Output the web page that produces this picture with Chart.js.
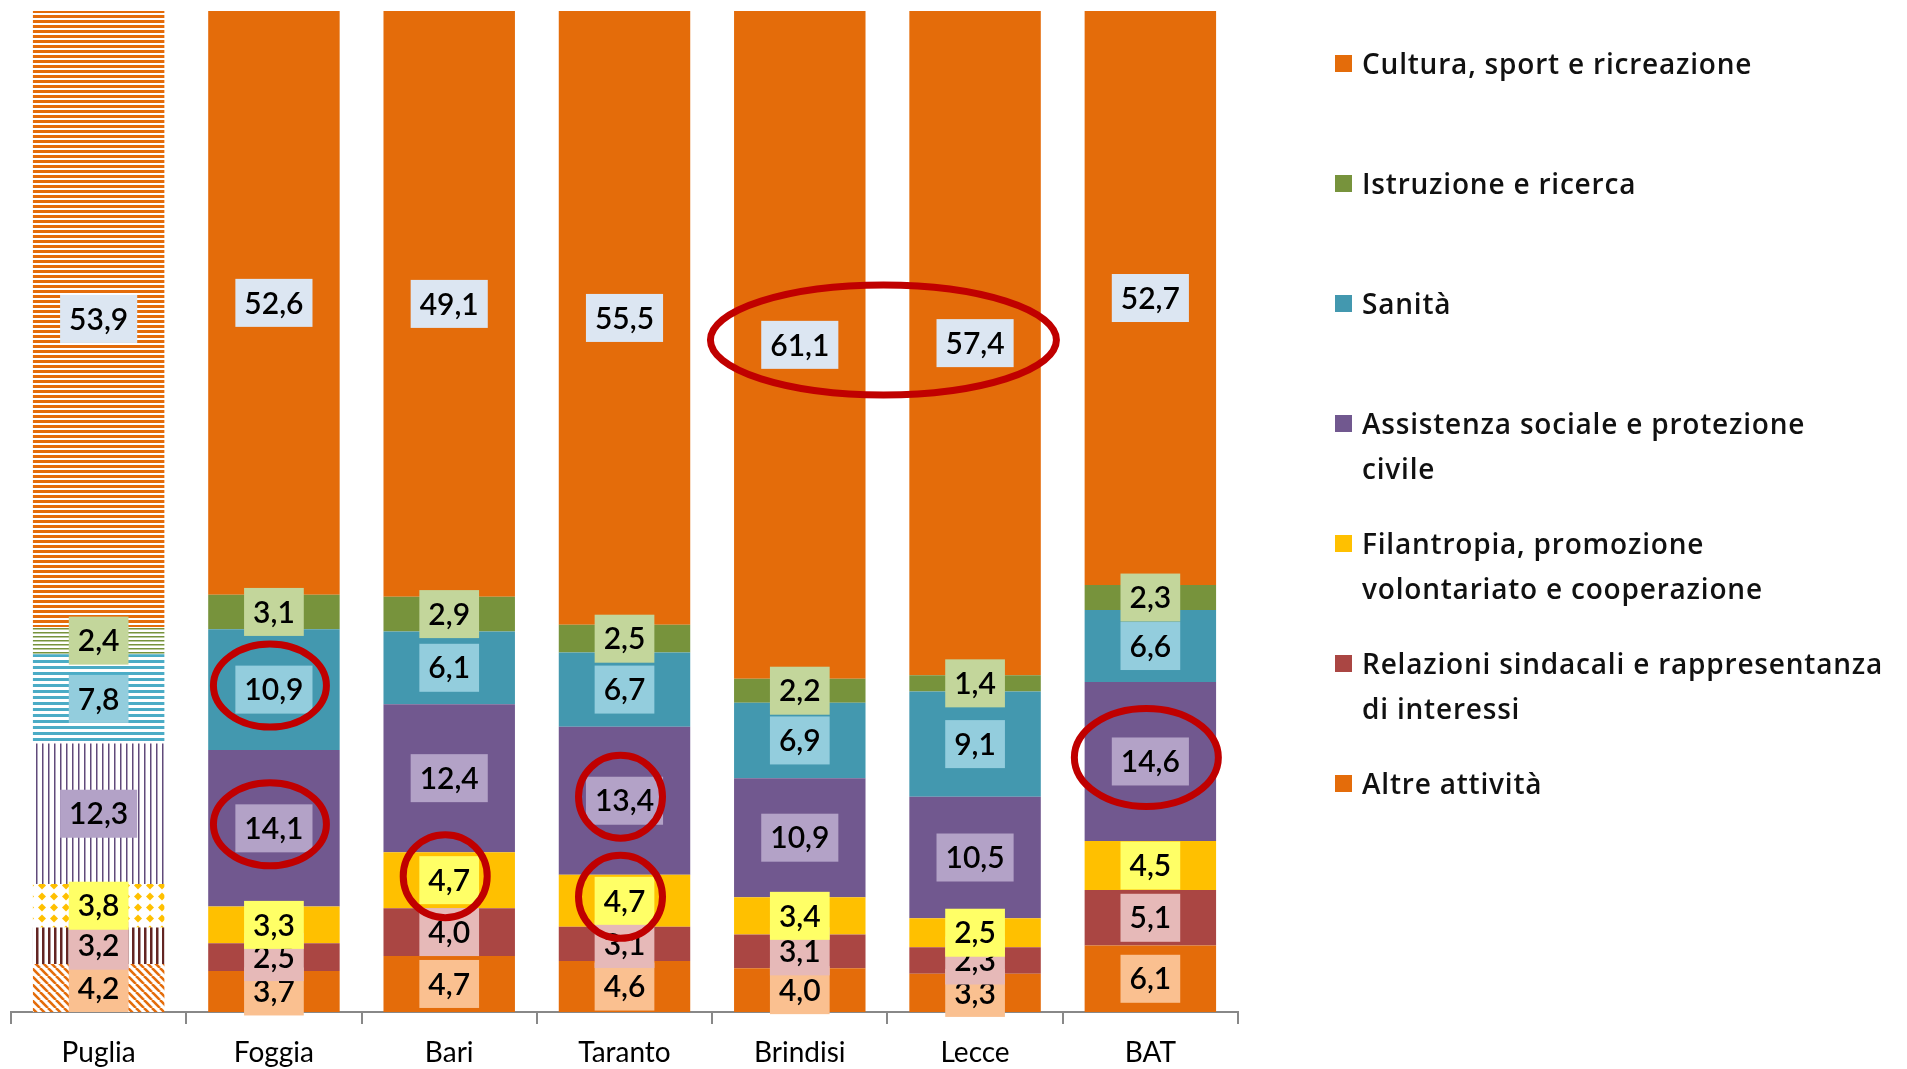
<!DOCTYPE html>
<html lang="it">
<head>
<meta charset="utf-8">
<title>Settori di attività per provincia</title>
<script src="https://cdn.jsdelivr.net/npm/chart.js@4.4.1/dist/chart.umd.min.js"></script>
<style>
  html, body { margin: 0; padding: 0; background: #fff; overflow: hidden; }
  #wrap { position: relative; width: 1907px; height: 1069px; overflow: hidden; }
  #legend {
    position: absolute; left: 1335px; top: 41px;
    font-family: "Open Sans", Lato, sans-serif; font-size: 28px; font-weight: 600; letter-spacing: 0.8px; color: #111;
  }
  .item { position: relative; height: 120px; padding-left: 27px; line-height: 45px; white-space: pre; }
  .item i { position: absolute; left: 0; top: 14px; width: 17px; height: 17px; }
</style>
</head>
<body>
<div id="wrap">
  <canvas id="chart" width="1907" height="1069"></canvas>
  <div id="legend"></div>
</div>
<script>
// categorie (asse x)
const categories = ["Puglia", "Foggia", "Bari", "Taranto", "Brindisi", "Lecce", "BAT"];

// valori per settore (%), dal basso verso l'alto
const altre       = [4.2, 3.7, 4.7, 4.6, 4.0, 3.3, 6.1];
const relazioni   = [3.2, 2.5, 4.0, 3.1, 3.1, 2.3, 5.1];
const filantropia = [3.8, 3.3, 4.7, 4.7, 3.4, 2.5, 4.5];
const assistenza  = [12.3, 14.1, 12.4, 13.4, 10.9, 10.5, 14.6];
const sanita      = [7.8, 10.9, 6.1, 6.7, 6.9, 9.1, 6.6];
const istruzione  = [2.4, 3.1, 2.9, 2.5, 2.2, 1.4, 2.3];
const cultura     = [53.9, 52.6, 49.1, 55.5, 61.1, 57.4, 52.7];

const seriesNames = [
  "Altre attività",
  "Relazioni sindacali e rappresentanza\ndi interessi",
  "Filantropia, promozione\nvolontariato e cooperazione",
  "Assistenza sociale e protezione\ncivile",
  "Sanità",
  "Istruzione e ricerca",
  "Cultura, sport e ricreazione"
];
const seriesValues = [altre, relazioni, filantropia, assistenza, sanita, istruzione, cultura];

// colori
const segColors   = ["#E46C0A", "#AA4643", "#FFC000", "#71588F", "#4398AF", "#77933C", "#E46C0A"];
const labelColors = ["#FAC090", "#E6B9B8", "#FFFF66", "#B3A2C7", "#93CDDD", "#C3D69B", "#DCE6F2"];

// cerchi rossi: [categorie, serie, larghezza, altezza]
const highlights = [
  [[1], 4, 113, 83],
  [[1], 3, 113, 83],
  [[2], 2, 84, 83],
  [[3], 3, 84, 83],
  [[3], 2, 84, 83],
  [[6], 3, 144, 98],
  [[4, 5], 6, 346, 110]
];

// --- trame per la barra "Puglia" ---
function tile(w, h, draw) {
  const c = document.createElement("canvas");
  c.width = w; c.height = h;
  const g = c.getContext("2d");
  g.fillStyle = "#fff";
  g.fillRect(0, 0, w, h);
  draw(g);
  return g.createPattern(c, "repeat");
}
const patterns = [
  tile(8, 8, g => { // diagonali arancio
    g.strokeStyle = "#E46C0A"; g.lineWidth = 2.6;
    for (let k = -8; k <= 16; k += 8) { g.beginPath(); g.moveTo(k, 0); g.lineTo(k + 8, 8); g.stroke(); }
  }),
  tile(6, 4, g => { g.fillStyle = "#632523"; g.fillRect(0, 0, 2.5, 4); }),
  tile(12, 11, g => {
    g.fillStyle = "#FFC000";
    g.beginPath(); g.moveTo(6, 1.5); g.lineTo(10, 5.5); g.lineTo(6, 9.5); g.lineTo(2, 5.5); g.closePath(); g.fill();
  }),
  tile(6, 4, g => { g.fillStyle = "#604A7B"; g.fillRect(0, 0, 1.5, 4); }),
  tile(4, 6, g => { g.fillStyle = "#4BACC6"; g.fillRect(0, 0, 4, 3); }),
  tile(4, 4, g => { g.fillStyle = "#77933C"; g.fillRect(0, 0, 4, 1.5); }),
  tile(4, 5, g => { g.fillStyle = "#E46C0A"; g.fillRect(0, 0, 4, 3); })
];

// totali per normalizzare a 100
const totals = categories.map((_, i) => seriesValues.reduce((s, arr) => s + arr[i], 0));
const fmt = v => v.toFixed(1).replace(".", ",");

const datasets = seriesValues.map((arr, di) => ({
  label: seriesNames[di].replace("\n", " "),
  data: arr.map((v, i) => v / totals[i] * 100),
  raw: arr,
  backgroundColor: c => c.dataIndex === 0 ? patterns[di] : segColors[di],
  borderWidth: 0,
  categoryPercentage: 1,
  barPercentage: 0.75
}));

// etichette con riquadro + ellissi rosse
const boxLabels = {
  id: "boxLabels",
  afterDatasetsDraw(chart) {
    const ctx = chart.ctx;
    const centers = {};
    ctx.save();
    ctx.font = '600 30px Lato, "Open Sans", sans-serif';
    ctx.textAlign = "center";
    ctx.textBaseline = "middle";
    chart.data.datasets.forEach((ds, di) => {
      chart.getDatasetMeta(di).data.forEach((bar, i) => {
        const txt = fmt(ds.raw[i]);
        const cy = (bar.y + bar.base) / 2;
        const w = ctx.measureText(txt).width + 18;
        const h = 48;
        ctx.fillStyle = labelColors[di];
        ctx.fillRect(bar.x - w / 2, cy - h / 2, w, h);
        ctx.fillStyle = "#000";
        ctx.fillText(txt, bar.x, cy + 1);
        centers[i + "_" + di] = [bar.x, cy];
      });
    });
    ctx.strokeStyle = "#C00000";
    ctx.lineWidth = 7;
    highlights.forEach(([cats, di, w, h]) => {
      const pts = cats.map(i => centers[i + "_" + di]);
      const x = pts.reduce((s, p) => s + p[0], 0) / pts.length;
      const y = pts.reduce((s, p) => s + p[1], 0) / pts.length;
      ctx.beginPath();
      ctx.ellipse(x - 4, y - 4, w / 2, h / 2, 0, 0, Math.PI * 2);
      ctx.stroke();
    });
    ctx.restore();
  }
};

Chart.defaults.font.family = 'Lato, "Open Sans", sans-serif';

new Chart(document.getElementById("chart"), {
  type: "bar",
  data: { labels: categories, datasets },
  options: {
    responsive: false,
    animation: false,
    devicePixelRatio: 1,
    layout: { padding: { left: 11, right: 669, top: 11, bottom: 0 } },
    plugins: { legend: { display: false }, tooltip: { enabled: false } },
    scales: {
      x: {
        stacked: true,
        grid: { display: true, drawOnChartArea: false, drawTicks: true, tickLength: 12, color: "#888", lineWidth: 2, offset: true },
        border: { display: true, color: "#888", width: 2 },
        ticks: { color: "#000", font: { size: 28 }, padding: 12 },
        afterFit: s => { s.height = 57; }
      },
      y: { stacked: true, display: false, min: 0, max: 100 }
    }
  },
  plugins: [boxLabels]
});

// legenda (dall'alto: ordine inverso della pila)
const legend = document.getElementById("legend");
for (let di = seriesNames.length - 1; di >= 0; di--) {
  const item = document.createElement("div");
  item.className = "item";
  const sw = document.createElement("i");
  sw.style.background = segColors[di];
  item.appendChild(sw);
  item.appendChild(document.createTextNode(seriesNames[di]));
  legend.appendChild(item);
}
</script>
</body>
</html>
